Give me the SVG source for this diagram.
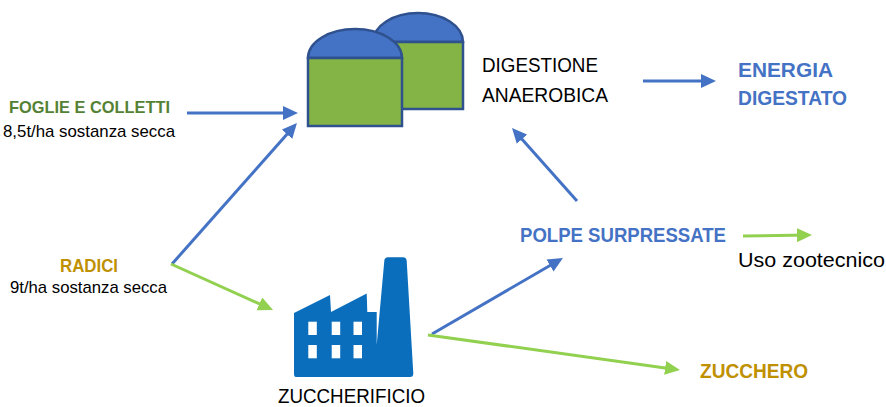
<svg xmlns="http://www.w3.org/2000/svg" width="886" height="407" viewBox="0 0 886 407">
<style>
text{font-family:"Liberation Sans",Arial,sans-serif;}
.reg{font-size:19.5px;fill:#000;}
.sm{font-size:17px;fill:#000;}
.b{font-weight:bold;font-size:20px;}
.blue{fill:#4472C4;}
.gold{fill:#BF9000;}
.grn{fill:#548235;}
.lb{stroke:#4472C4;stroke-width:3;fill:none;}
.lg{stroke:#92D050;stroke-width:3;fill:none;}
.tank{stroke:#2F528F;stroke-width:2.5;}
</style>
<defs>
<marker id="ab" markerUnits="userSpaceOnUse" markerWidth="16" markerHeight="14" refX="11" refY="7" orient="auto"><path d="M0,0 L15,7 L0,14 z" fill="#4472C4"/></marker>
<marker id="ag" markerUnits="userSpaceOnUse" markerWidth="16" markerHeight="14" refX="11" refY="7" orient="auto"><path d="M0,0 L15,7 L0,14 z" fill="#92D050"/></marker>
</defs>
<rect width="886" height="407" fill="#fff"/>

<g id="digester">
<path class="tank" d="M373,42 A45,29 0 0 1 463,42 Z" fill="#4472C4"/>
<rect class="tank" x="373" y="42" width="90" height="67" fill="#84B446"/>
<path class="tank" d="M308,58 A47,29 0 0 1 402,58 Z" fill="#4472C4"/>
<rect class="tank" x="308" y="58" width="94" height="68" fill="#84B446"/>
</g>

<g id="factory">
<path d="M296,377 Q294,377 294,374 L294,313 L330,295 L331,312 L366.7,293.5 L367.3,312 L376.7,312 L376.7,345 L384.3,261 Q384.5,257.3 388,257.3 L403,257.3 Q406.5,257.3 406.7,261 L413.3,373.5 Q413.3,377 410,377 Z" fill="#0A6EBD"/>
<g fill="#fff">
<rect x="308.3" y="321.7" width="8.5" height="13.3"/>
<rect x="331.7" y="321.7" width="8.5" height="13.3"/>
<rect x="353.5" y="321.7" width="8.5" height="13.3"/>
<rect x="308.3" y="345" width="8.5" height="13.3"/>
<rect x="331.7" y="345" width="8.5" height="13.3"/>
<rect x="353.5" y="345" width="8.5" height="13.3"/>
</g>
<text class="reg" x="278" y="403" textLength="147" lengthAdjust="spacingAndGlyphs">ZUCCHERIFICIO</text>
</g>

<g id="digestione-label">
<text class="reg" x="482" y="72" textLength="116" lengthAdjust="spacingAndGlyphs">DIGESTIONE</text>
<text class="reg" x="482" y="102" textLength="126" lengthAdjust="spacingAndGlyphs">ANAEROBICA</text>
</g>

<g id="foglie">
<text class="b grn" x="9" y="113" style="font-size:17px" textLength="161" lengthAdjust="spacingAndGlyphs">FOGLIE E COLLETTI</text>
<text class="sm" x="3" y="137" textLength="172" lengthAdjust="spacingAndGlyphs">8,5t/ha sostanza secca</text>
</g>

<g id="radici">
<text class="b gold" x="60" y="272" style="font-size:17.5px" textLength="58" lengthAdjust="spacingAndGlyphs">RADICI</text>
<text class="sm" x="10" y="293" textLength="157" lengthAdjust="spacingAndGlyphs">9t/ha sostanza secca</text>
</g>

<g id="energia">
<text class="b blue" x="738" y="77" textLength="95" lengthAdjust="spacingAndGlyphs">ENERGIA</text>
<text class="b blue" x="738" y="105" textLength="109" lengthAdjust="spacingAndGlyphs">DIGESTATO</text>
</g>

<g id="polpe">
<text class="b blue" x="520" y="242" textLength="206" lengthAdjust="spacingAndGlyphs">POLPE SURPRESSATE</text>
</g>

<g id="uso">
<text class="reg" x="738" y="267" textLength="147" lengthAdjust="spacingAndGlyphs">Uso zootecnico</text>
</g>

<g id="zucchero">
<text class="b gold" x="700" y="378" textLength="108" lengthAdjust="spacingAndGlyphs">ZUCCHERO</text>
</g>

<g id="connectors">
<line class="lb" x1="187" y1="113" x2="294" y2="113" marker-end="url(#ab)"/>
<line class="lb" x1="172" y1="264" x2="294.3" y2="126" marker-end="url(#ab)"/>
<line class="lg" x1="171" y1="264" x2="269.4" y2="308.4" marker-end="url(#ag)"/>
<line class="lb" x1="643" y1="81" x2="712" y2="81" marker-end="url(#ab)"/>
<line class="lb" x1="577" y1="201" x2="514.7" y2="131" marker-end="url(#ab)"/>
<line class="lb" x1="432" y1="334" x2="559.5" y2="260" marker-end="url(#ab)"/>
<line class="lg" x1="428" y1="335" x2="676" y2="369.4" marker-end="url(#ag)"/>
<line class="lg" x1="743" y1="236" x2="808" y2="235" marker-end="url(#ag)"/>
</g>
</svg>
